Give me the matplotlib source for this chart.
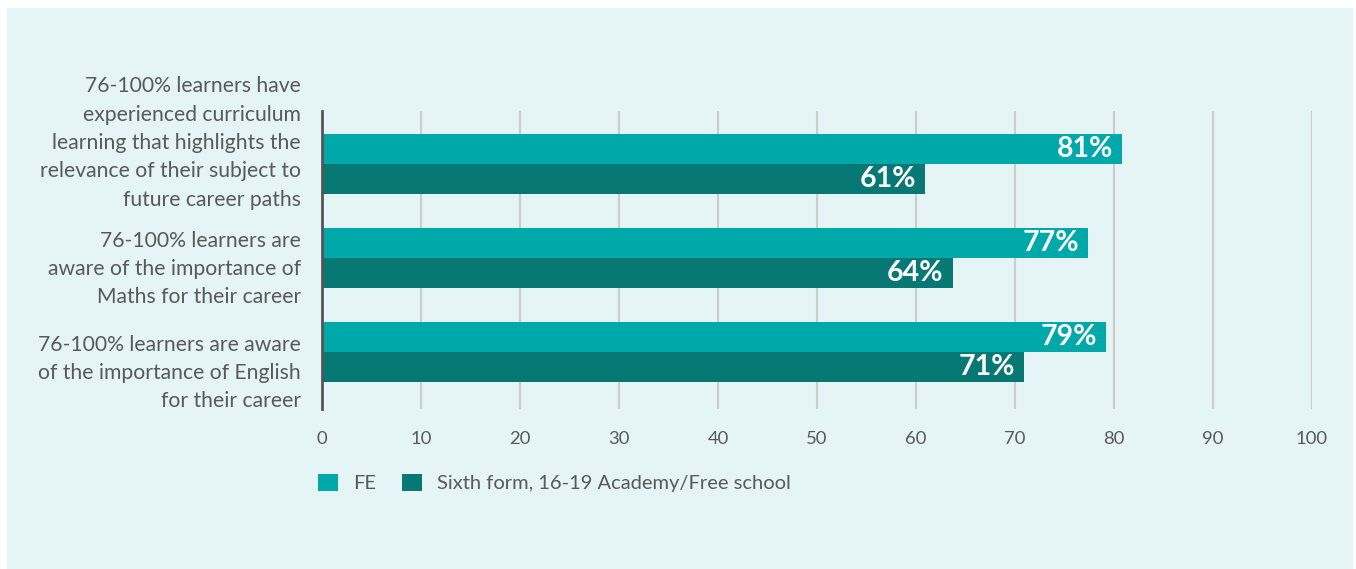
import matplotlib.pyplot as plt
from matplotlib.patches import Patch, Rectangle

plt.rcParams['font.family'] = ['Lato', 'DejaVu Sans']

categories = [
    "76-100% learners have\nexperienced curriculum\nlearning that highlights the\nrelevance of their subject to\nfuture career paths",
    "76-100% learners are\naware of the importance of\nMaths for their career",
    "76-100% learners are aware\nof the importance of English\nfor their career",
]
series_names = ["FE", "Sixth form, 16-19 Academy/Free school"]
fe_values = [80.8, 77.4, 79.2]
sixth_values = [60.9, 63.7, 70.9]
x_ticks = [0, 10, 20, 30, 40, 50, 60, 70, 80, 90, 100]

FE_COLOR = '#00a9a9'
SIXTH_COLOR = '#087875'
PANEL = '#e5f5f5'
TEXT = '#595959'

W, H = 1356, 569
fig = plt.figure(figsize=(W / 100, H / 100), dpi=100)
fig.patch.set_facecolor('white')
fig.patches.append(Rectangle((7 / W, 0), (1353 - 7) / W, 1 - 8 / H,
                             transform=fig.transFigure, facecolor=PANEL,
                             edgecolor='none', zorder=-10))

ax = fig.add_axes([322 / W, 1 - 409 / H, (1312 - 322) / W, (409 - 111) / H])
ax.set_facecolor('none')

bar_h = 0.324
ys = list(range(len(categories)))
fe_bars = ax.barh([y - bar_h / 2 for y in ys], fe_values, height=bar_h,
                  color=FE_COLOR, zorder=3)
sixth_bars = ax.barh([y + bar_h / 2 for y in ys], sixth_values, height=bar_h,
                     color=SIXTH_COLOR, zorder=3)

# value labels inside the bar ends
for bars, vals in ((fe_bars, fe_values), (sixth_bars, sixth_values)):
    for bar, v in zip(bars, vals):
        ax.annotate(f"{v:.0f}%", (v, bar.get_y() + bar.get_height() / 2),
                    xytext=(-9, 0), textcoords='offset pixels',
                    ha='right', va='center', color='white',
                    fontsize=20.5, fontweight='bold', zorder=4)

ax.set_xlim(0, 100)
ax.set_ylim(2.606, -0.564)
ax.set_xticks(x_ticks)
ax.set_xticklabels([str(t) for t in x_ticks])
ax.tick_params(axis='x', length=0, pad=15.5, labelsize=13.3, labelcolor=TEXT)
ax.set_yticks([])
ax.grid(axis='x', color='#cccccc', linewidth=1.5, zorder=0)
for s in ('top', 'right', 'bottom'):
    ax.spines[s].set_visible(False)
ax.spines['left'].set_color('#555555')
ax.spines['left'].set_linewidth(2)
ax.spines['left'].set_zorder(5)

# category labels, hand-placed beside each group
label_shift = [-0.223, 0.117, 0.223]
for y, text, dy in zip(ys, categories, label_shift):
    ax.text(-21 / 990 * 100, y + dy, text, ha='right', va='center',
            fontsize=15.2, color=TEXT, linespacing=1.52, clip_on=False)

handles = [Patch(facecolor=FE_COLOR), Patch(facecolor=SIXTH_COLOR)]
fig.legend(handles, series_names, loc='center left',
           bbox_to_anchor=(318 / W, 1 - 483 / H), frameon=False,
           ncol=2, fontsize=14.5, labelcolor=TEXT,
           handlelength=0.98, handleheight=0.98, handletextpad=0.75,
           columnspacing=1.3, borderpad=0, borderaxespad=0)

fig.savefig('out.png', dpi=100, facecolor='white')
